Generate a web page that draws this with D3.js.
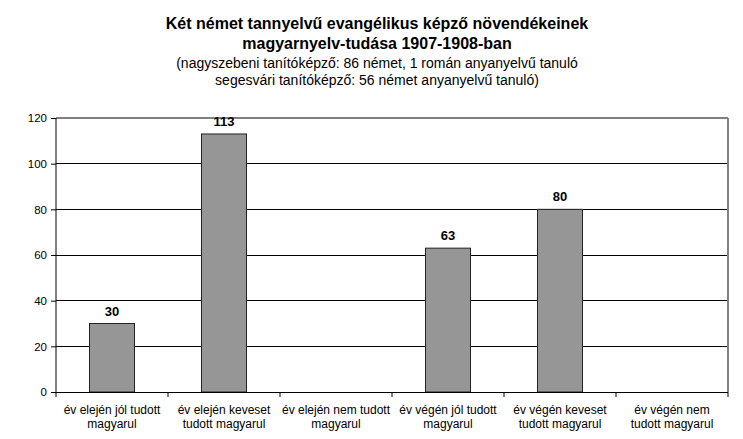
<!DOCTYPE html>
<html><head><meta charset="utf-8">
<script src="https://cdn.jsdelivr.net/npm/d3@7"></script>
<style>body{margin:0;background:#fff}svg{display:block;font-family:Arial,"Liberation Sans",sans-serif}</style>
</head><body>
<svg id="c" width="743" height="439"></svg>
<script>
const categories = [
  ["év elején jól tudott","magyarul"],
  ["év elején keveset","tudott magyarul"],
  ["év elején nem tudott","magyarul"],
  ["év végén jól tudott","magyarul"],
  ["év végén keveset","tudott magyarul"],
  ["év végén nem","tudott magyarul"]
];
const values = [30, 113, null, 63, 80, null];
const yTicks = [0, 20, 40, 60, 80, 100, 120];
const titleLines = ["Két német tannyelvű evangélikus képző növendékeinek","magyarnyelv-tudása 1907-1908-ban"];
const subtitleLines = ["(nagyszebeni tanítóképző: 86 német, 1 román anyanyelvű tanuló","segesvári tanítóképző: 56 német anyanyelvű tanuló)"];

const svg = d3.select("#c");
const m = {left:56, right:728, top:118, bottom:392};
const x = d3.scaleBand().domain(d3.range(categories.length)).range([m.left, m.right]).paddingInner(0).paddingOuter(0);
const y = d3.scaleLinear().domain([0,120]).range([m.bottom, m.top]);

// titles
svg.append("g").selectAll("text").data(titleLines).join("text")
  .attr("x", 377).attr("y", (d,i)=>29+i*20).attr("text-anchor","middle")
  .attr("font-size",16).attr("font-weight","bold").attr("fill","#000").text(d=>d);
svg.append("g").selectAll("text").data(subtitleLines).join("text")
  .attr("x", 377).attr("y", (d,i)=>68+i*17).attr("text-anchor","middle")
  .attr("font-size",14).attr("fill","#000").text(d=>d);

// gridlines
svg.append("g").selectAll("line").data(yTicks.filter(t=>t>0 && t<120)).join("line")
  .attr("x1", m.left).attr("x2", m.right).attr("y1", d=>y(d)).attr("y2", d=>y(d))
  .attr("stroke","#000").attr("stroke-width",1).attr("shape-rendering","crispEdges");
// frame top/right
svg.append("line").attr("x1",m.left).attr("x2",m.right).attr("y1",y(120)).attr("y2",y(120))
  .attr("stroke","#808080").attr("stroke-width",1.5).attr("shape-rendering","crispEdges");
svg.append("line").attr("x1",m.right).attr("x2",m.right).attr("y1",y(120)).attr("y2",y(0))
  .attr("stroke","#808080").attr("stroke-width",1.5).attr("shape-rendering","crispEdges");

// bars
const data = values.map((v,i)=>({i,v})).filter(d=>d.v!=null);
const bw = 45;
svg.append("g").selectAll("rect").data(data).join("rect")
  .attr("x", d=>x(d.i)+x.bandwidth()/2-bw/2).attr("width", bw)
  .attr("y", d=>y(d.v)).attr("height", d=>y(0)-y(d.v))
  .attr("fill","#969696").attr("stroke","#222").attr("stroke-width",1);
svg.append("g").selectAll("text").data(data).join("text")
  .attr("x", d=>x(d.i)+x.bandwidth()/2).attr("y", d=>y(d.v)-8)
  .attr("text-anchor","middle").attr("font-size",13).attr("font-weight","bold").text(d=>d.v);

// y axis
const ya = svg.append("g").attr("transform",`translate(${m.left},0)`)
  .call(d3.axisLeft(y).tickValues(yTicks).tickSize(5).tickPadding(4));
ya.selectAll("path,line").attr("stroke","#000");
ya.select(".domain").attr("d", `M0,${y(120)}V${y(0)}`);
ya.selectAll("text").attr("font-size",11.5).attr("font-family","Arial, 'Liberation Sans', sans-serif").attr("fill","#000");

// x axis
const xg = svg.append("g").attr("transform",`translate(0,${m.bottom})`);
xg.append("line").attr("x1",m.left).attr("x2",m.right).attr("stroke","#000").attr("shape-rendering","crispEdges");
xg.selectAll("line.tk").data(d3.range(categories.length+1)).join("line").attr("class","tk")
  .attr("x1", d=> d<categories.length ? x(d) : m.right).attr("x2", d=> d<categories.length ? x(d) : m.right)
  .attr("y1",0).attr("y2",5).attr("stroke","#000");
const lab = xg.selectAll("text").data(categories).join("text")
  .attr("text-anchor","middle").attr("font-size",12).attr("fill","#000");
lab.selectAll("tspan").data((d,i)=>d.map(s=>({s,i}))).join("tspan")
  .attr("x", d=>x(d.i)+x.bandwidth()/2).attr("y",(d,j)=>22+j*14).text(d=>d.s);
</script>
</body></html>
